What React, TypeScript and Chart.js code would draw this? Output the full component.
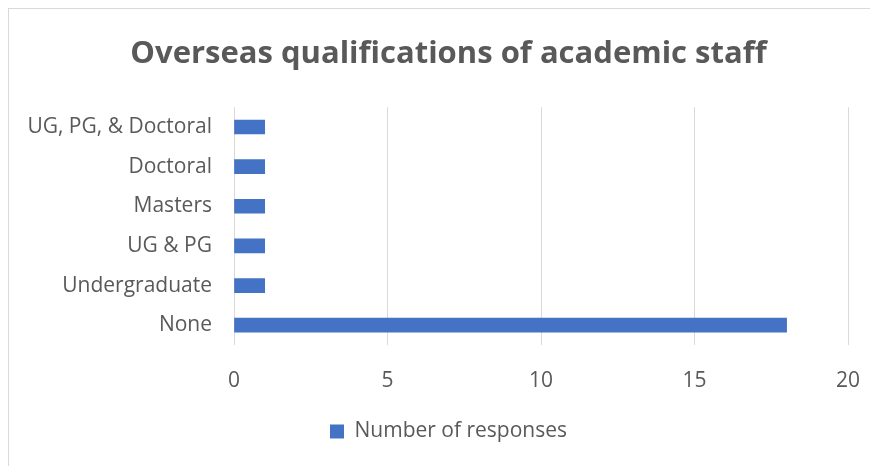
import React, { useEffect, useRef } from "react";
import { Chart, registerables } from "chart.js";

Chart.register(...registerables);

// Chart content
const chartTitle = "Overseas qualifications of academic staff";
const seriesLabel = "Number of responses";
const categories = [
  "UG, PG, & Doctoral",
  "Doctoral",
  "Masters",
  "UG & PG",
  "Undergraduate",
  "None",
];
const responses = [1, 1, 1, 1, 1, 18];
const xMin = 0;
const xMax = 20;
const xStep = 5;

const TEXT = "#595959";
const GRID = "#d9d9d9";
const BAR = "#4472C4";
const FAMILY = "'Open Sans', Lato, sans-serif";

export default function App() {
  const canvasRef = useRef<HTMLCanvasElement | null>(null);

  useEffect(() => {
    if (!canvasRef.current) return;
    const chart = new Chart(canvasRef.current, {
      type: "bar",
      data: {
        labels: categories,
        datasets: [
          {
            label: seriesLabel,
            data: responses,
            backgroundColor: BAR,
            borderWidth: 0,
            barThickness: 14,
          },
        ],
      },
      options: {
        indexAxis: "y",
        animation: false,
        responsive: true,
        maintainAspectRatio: false,
        layout: { padding: { left: 0, right: 0, top: 0, bottom: 14 } },
        plugins: {
          title: {
            display: true,
            text: chartTitle,
            color: TEXT,
            font: { family: FAMILY, size: 31, weight: "bold", lineHeight: 1.2 },
            padding: { top: 27, bottom: 34 },
          },
          legend: {
            position: "bottom",
            labels: {
              boxWidth: 14,
              boxHeight: 14,
              color: TEXT,
              padding: 10,
              font: { family: FAMILY, size: 21 },
            },
          },
          tooltip: { enabled: false },
        },
        scales: {
          x: {
            min: xMin,
            max: xMax,
            ticks: {
              stepSize: xStep,
              color: TEXT,
              padding: 23,
              font: { family: FAMILY, size: 21 },
            },
            grid: { color: GRID, lineWidth: 1, drawTicks: false },
            border: { display: false },
            afterFit: (s: any) => {
              s.height = 66;
              s.paddingRight = 40;
            },
          },
          y: {
            ticks: {
              color: TEXT,
              padding: 22,
              font: { family: FAMILY, size: 21 },
            },
            grid: { display: false, drawTicks: false },
            border: { display: false },
            afterFit: (s: any) => {
              s.width = 225;
            },
          },
        },
      },
    });
    return () => chart.destroy();
  }, []);

  return (
    <div style={{ width: 870, height: 458, overflow: "hidden" }}>
      <div
        style={{
          width: 879,
          height: 470,
          border: `1px solid ${GRID}`,
          background: "#fff",
        }}
      >
        <div style={{ position: "relative", width: 879, height: 457 }}>
          <canvas ref={canvasRef} />
        </div>
      </div>
    </div>
  );
}
